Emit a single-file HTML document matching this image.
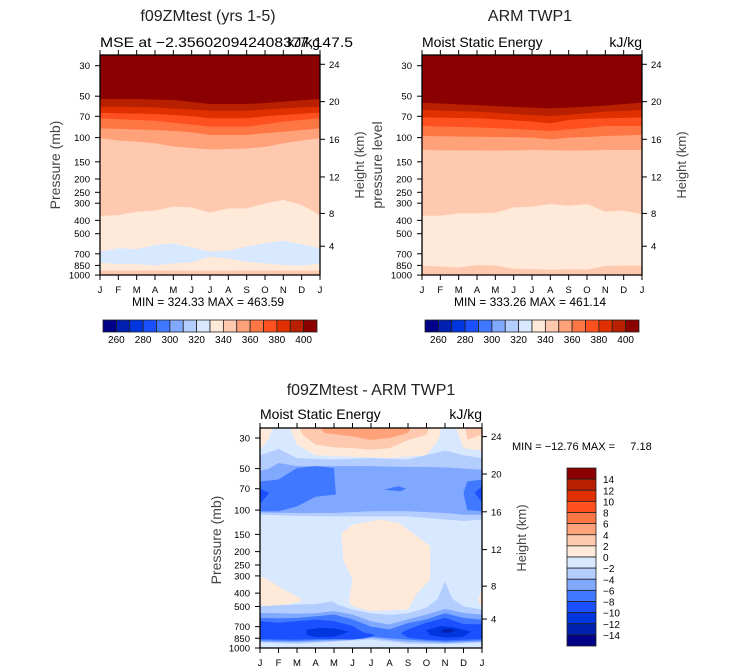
<!DOCTYPE html>
<html><head><meta charset="utf-8"><title>MSE</title>
<style>html,body{margin:0;padding:0;background:#fff;}svg{display:block;font-family:"Liberation Sans",sans-serif;}</style>
</head><body>
<svg id="fig" width="733" height="672" viewBox="0 0 733 672" xmlns="http://www.w3.org/2000/svg">
<rect width="733" height="672" fill="#fff"/>
</svg>
<script>
// ---- data ----
const monthLabels=['J','F','M','A','M','J','J','A','S','O','N','D','J'];
const pressureTicks=[30,50,70,100,150,200,250,300,400,500,700,850,1000];
const heightTicks=[24,20,16,12,8,4];
const topCbLabels=[260,280,300,320,340,360,380,400];
const diffCbLabels=[14,12,10,8,6,4,2,0,-2,-4,-6,-8,-10,-12,-14];
// model (left) contour boundaries, pressure (mb) per month
const mB1=[52.4,52.4,52.4,53,53.3,55,57,57,57,56,54.8,53.5,52.4];
const mB2=[59.6,59.6,60,60.3,61.5,62.5,63.8,63.8,63.8,62.5,61.3,60.3,59.6];
const mB3=[65.9,66.5,67,67.4,68.5,70,72.4,72.4,72.4,70,68.5,67,65.9];
const mB4=[72.4,73.5,74.5,75.4,78,80.5,83.3,83.3,83.3,80,76.6,74.5,72.4];
const mB5=[85.7,86.5,87.3,88,89.5,91.5,95.7,95.7,95.7,93,90.6,88,85.7];
const mB6=[101,105,107,110,116,119,122,121,120,117,110,105,101];
const mB7=[372,366,346,340,318,322,352,327,327,301,284,309,366];
const mBlueTop=[675,638,649,604,587,628,675,664,621,587,562,597,638];
const mBlueBot=[813,831,831,849,821,804,734,759,798,821,844,854,821];
const mSfcTop=[928,926,925,924,926,928,930,928,926,925,926,928,928];
// obs (right) contour boundaries
const oB1=[55.7,56.5,57.3,58,59,59.8,60.6,61.3,60.6,59.5,58.5,57,55.7];
const oB2=[63,63.5,64.2,64.8,66,67.5,68.6,69.7,68.2,66.5,64.8,64,63];
const oB3=[71.3,71.5,72,72.4,73.5,75,76.6,78.8,74.5,73,72.4,71.8,71.3];
const oB4=[82.4,83,83.6,84.2,85.5,86.5,88,89.6,87.1,85,82.4,82.4,82.4];
const oB5=[97.4,97.8,98.2,98.5,99,99.5,100,103,100,99,97.4,96.5,95.7];
const oB6=[123,123.5,124,124,124.5,124,123,123.5,124.5,124,123,123,123];
const oB7=[370,370,355,355,352,322,318,304,313,304,346,340,361];
const oSfcTop=[854,868,882,845,854,898,904,914,904,910,858,854,854];
// difference field regions: [month, pressure] vertices and value
const diffValues=[1,1,1,3,3,5,-3,-5,-7,-7,-7,-9,-9,1,1,1,-3,-5,-7,-9,-9,-11,-11,-13];
const diffPolys=[
 [[0,20],[0,36.5],[0.5,30],[0.9,20]],
 [[1.3,20],[2,33.5],[3,40],[5,41],[7,41.9],[9,40],[9.7,30],[9.9,20]],
 [[10.3,20],[11,35.5],[12,37],[12,20]],
 [[1.8,20],[2.3,28.4],[3,33.5],[4,35],[5,35.5],[6,36.5],[7,35.5],[8,31],[9,28.4],[9.4,20]],
 [[11,20],[11.2,30.8],[12,28.4],[12,20]],
 [[2.5,20],[3.5,27.6],[5,29.2],[6,31],[7,30],[8,27.6],[8.6,20]],
 [[0,40],[1,36],[2,42],[4,43],[6,42],[8,43],[10,37],[11,40],[12,42],[12,117],[11,120],[10,117],[8,111],[6,111],[4,111],[2,110],[0,108]],
 [[0,52],[0.5,50],[1,45.5],[2,48],[4,48],[6,48],[8,48.7],[9,48.7],[10,49],[11,50],[12,51],[12,108],[11,108],[10,105],[8,102],[6,102],[4,105],[2,105],[0,104]],
 [[0,62],[1,60],[2,49.5],[3,48],[4,49.5],[4.1,77],[3,80],[2,94],[1,102],[0,102]],
 [[6.7,71],[7.5,67],[7.9,70],[7.6,73],[7,72]],
 [[12,60],[11.2,62],[11,75],[11.2,100],[12,102]],
 [[0,70],[0.5,75],[0,90]],
 [[12,67],[11.6,75],[12,88]],
 [[4.4,147],[5,128],[6.5,117],[7.5,124],[8.5,155],[9.2,183],[9.2,320],[8.5,398],[8,527],[6,540],[5,498],[4.8,459],[5,320],[4.5,229]],
 [[0,300],[0.6,330],[1.3,378],[2.2,435],[2.2,460],[1.2,490],[0,498]],
 [[12,380],[11.8,440],[11.9,490],[12,510]],
 [[0,498],[1,490],[2,485],[3,480],[3.9,459],[4.2,485],[5,527],[6,560],[7,575],[8,560],[9,510],[9.6,440],[10,330],[10.4,440],[11,498],[12,527],[12,912],[10,937],[8,930],[6,870],[4,900],[2,930],[0,912]],
 [[0,557],[1,560],[2,565],[3,560],[4,540],[5,572],[6,640],[7,674],[8,620],[9,572],[10,520],[11,557],[12,572],[12,900],[10,920],[8,900],[6,850],[4,890],[2,910],[0,900]],
 [[0,605],[1,610],[2,605],[3,590],[4,572],[5,620],[6,700],[7,733],[8,660],[9,620],[10,560],[11,605],[12,622],[12,880],[10,900],[8,870],[6,830],[5.5,860],[4,870],[2,890],[0,880]],
 [[0,639],[1,656],[2,640],[3,622],[4,639],[5,693],[5.6,770],[6.2,800],[6,830],[5,870],[4,860],[3,860],[2,870],[1,865],[0,860]],
 [[7.6,780],[8,733],[9,656],[10,605],[11,670],[12,674],[12,860],[11,870],[10,880],[9,870],[8,840]],
 [[2.5,740],[3.2,713],[4,720],[4.8,760],[4,830],[3,835],[2.5,800]],
 [[9,740],[9.8,693],[10.5,710],[11.4,760],[11,830],[10,840],[9.2,810]],
 [[9.8,740],[10.2,725],[10.6,745],[10.2,780],[9.8,770]]
];
// ---- styles ----
const palette=['#000088','#0020b0','#0036e0','#1a50ff','#4078ff','#80a8ff','#b4cdff','#d7e8ff','#ffe9d9','#ffc9b0','#ffa27a','#ff7645','#ff5020','#e03000','#b82000','#8b0000'];
function mseColor(v){return palette[Math.max(0,Math.min(15,Math.floor((v-260)/10)+1))];}
function diffColor(v){return palette[Math.max(0,Math.min(15,Math.floor((v+14)/2)+1))];}
const NS='http://www.w3.org/2000/svg';
const svg=document.getElementById('fig');
function el(tag,attrs,parent,text){const e=document.createElementNS(NS,tag);for(const k in attrs)e.setAttribute(k,attrs[k]);if(text!==undefined)e.textContent=text;(parent||svg).appendChild(e);return e;}
function heightToP(z){z*=1000;if(z<=11000)return 1013.25*Math.pow(1-2.25577e-5*z,5.25588);if(z<=20000)return 226.32*Math.exp(-(z-11000)/6341.6);return 54.75*Math.pow(1+(z-20000)/216650,-34.163);}
let clipN=0;
function makePlot(cfg){
  const g=el('g',{});
  
  
  cfg.g=g;
  cfg.x=m=>cfg.x0+m*cfg.w/12;
  cfg.y=p=>cfg.y30+cfg.k*Math.log10(p/30);
  const id='clip'+(clipN++);
  const cp=el('clipPath',{id:id},g);el('rect',{x:cfg.x0,y:cfg.y0,width:cfg.w,height:cfg.h},cp);
  cfg.field=el('g',{'clip-path':'url(#'+id+')'},g);
  
  
  return cfg;
}
function fillAll(cfg,v,col){const r=el('rect',{x:cfg.x0,y:cfg.y0,width:cfg.w,height:cfg.h,fill:col(v)},cfg.field);
  
  }
function band(cfg,top,bot,v,col){
  let pts=[];
  for(let i=0;i<13;i++)pts.push(cfg.x(i)+','+cfg.y(top?top[i]:15));
  for(let i=12;i>=0;i--)pts.push(cfg.x(i)+','+cfg.y(bot?bot[i]:1100));
  const p=el('polygon',{points:pts.join(' '),fill:col(v)},cfg.field);
  
  
}
function poly(cfg,verts,v,col){
  const p=el('polygon',{points:verts.map(d=>cfg.x(d[0])+','+cfg.y(d[1])).join(' '),fill:col(v)},cfg.field);
  
  
}
function axes(cfg){
  const g=cfg.g, x0=cfg.x0,y0=cfg.y0,w=cfg.w,h=cfg.h;
  const f=el('rect',{x:x0,y:y0,width:w,height:h,fill:'none',stroke:'#000','stroke-width':1.3},g);
  
  
  monthLabels.forEach((m,i)=>{
    const xx=cfg.x(i);
    el('line',{x1:xx,x2:xx,y1:y0+h,y2:y0+h+5,stroke:'#000'},g);
    el('line',{x1:xx,x2:xx,y1:y0,y2:y0-5,stroke:'#000'},g);
    const t=el('text',{x:xx,y:y0+h+18,'font-size':9.5,'text-anchor':'middle'},g,m);
    
    
  });
  pressureTicks.forEach(p=>{
    const yy=cfg.y(p);
    el('line',{x1:x0-5,x2:x0,y1:yy,y2:yy,stroke:'#000'},g);
    const t=el('text',{x:x0-10,y:yy+3.5,'font-size':9.5,'text-anchor':'end'},g,String(p));
    
    
  });
  heightTicks.forEach(z=>{
    const yy=cfg.y(heightToP(z));
    el('line',{x1:x0+w,x2:x0+w+5,y1:yy,y2:yy,stroke:'#000'},g);
    const t=el('text',{x:x0+w+9,y:yy+3.5,'font-size':9.5},g,String(z));
    
    
  });
  const ht=el('text',{x:0,y:0,'font-size':13,'text-anchor':'middle',fill:'#444',transform:'translate('+(x0+w+44)+','+(y0+h/2)+') rotate(-90)'},g,'Height (km)');
  
  
}
function txt(x,y,s,size,anchor,name,extra){
  const t=el('text',Object.assign({x:x,y:y,'font-size':size,'text-anchor':anchor||'start'},extra||{}),svg,s);
  
  
  return t;
}
function hColorbar(x0,y0,w,h,labels,name){
  const g=el('g',{});
  const bw=w/16;
  palette.forEach((c,i)=>{const r=el('rect',{x:x0+i*bw,y:y0,width:bw,height:h,fill:c,stroke:'#222','stroke-width':0.8},g);
    });
  labels.forEach(v=>{const i=(v-260)/10+1;const t=el('text',{x:x0+i*bw,y:y0+h+11,'font-size':10,'text-anchor':'middle'},g,String(v));
    });
}
// ---- top-left: model ----
const L=makePlot({name:'model-plot',x0:100,y0:55,w:220,h:220,y30:65.7,k:137.5});
fillAll(L,345,mseColor);
band(L,null,mB6,355,mseColor);band(L,null,mB5,365,mseColor);band(L,null,mB4,375,mseColor);
band(L,null,mB3,385,mseColor);band(L,null,mB2,395,mseColor);band(L,null,mB1,410,mseColor);
band(L,mB7,null,335,mseColor);band(L,mBlueTop,mBlueBot,325,mseColor);band(L,mSfcTop,null,345,mseColor);
axes(L);
txt(208,21,'f09ZMtest (yrs 1-5)',16,'middle','model-title',{fill:'#222'});
txt(100,47,'MSE at \u22122.356020942408377,147.5',14,'start','model-subtitle',{textLength:253,lengthAdjust:'spacingAndGlyphs'});
txt(320,47,'kJ/kg',14,'end','model-units');
txt(0,0,'Pressure (mb)',14,'middle','model-y-axis-title',{fill:'#444',transform:'translate(60,165) rotate(-90)'});
txt(208,306,'MIN = 324.33 MAX = 463.59',12,'middle','model-min-max');
hColorbar(103,320,214,12,topCbLabels,'model-colorbar');
// ---- top-right: obs ----
const R=makePlot({name:'obs-plot',x0:422,y0:55,w:220,h:220,y30:65.7,k:137.5});
fillAll(R,345,mseColor);
band(R,null,oB6,355,mseColor);band(R,null,oB5,365,mseColor);band(R,null,oB4,375,mseColor);
band(R,null,oB3,385,mseColor);band(R,null,oB2,395,mseColor);band(R,null,oB1,410,mseColor);
band(R,oB7,null,335,mseColor);band(R,oSfcTop,null,345,mseColor);
axes(R);
txt(530,21,'ARM TWP1',16,'middle','obs-title',{fill:'#222'});
txt(422,47,'Moist Static Energy',14,'start','obs-subtitle');
txt(642,47,'kJ/kg',14,'end','obs-units');
txt(0,0,'pressure level',14,'middle','obs-y-axis-title',{fill:'#444',transform:'translate(382,165) rotate(-90)'});
txt(530,306,'MIN = 333.26 MAX = 461.14',12,'middle','obs-min-max');
hColorbar(425,320,214,12,topCbLabels,'obs-colorbar');
// ---- bottom: difference ----
const D=makePlot({name:'difference-plot',x0:260,y0:428,w:222,h:220,y30:438,k:137.9});
fillAll(D,-1,diffColor);
diffPolys.forEach((pts,i)=>poly(D,pts,diffValues[i],diffColor));
axes(D);
txt(371,395,'f09ZMtest - ARM TWP1',16,'middle','difference-title',{fill:'#222'});
txt(260,419,'Moist Static Energy',14,'start','difference-subtitle');
txt(482,419,'kJ/kg',14,'end','difference-units');
txt(0,0,'Pressure (mb)',14,'middle','difference-y-axis-title',{fill:'#444',transform:'translate(221,540) rotate(-90)'});
txt(512,450,'MIN = \u221212.76  MAX =\u00a0\u00a0\u00a0\u00a0\u00a07.18',11,'start','difference-min-max');
(function(){
  const g=el('g',{});
  const x0=567,y0=468,bw=29,bh=178/16;
  palette.slice().reverse().forEach((c,i)=>{const r=el('rect',{x:x0,y:y0+i*bh,width:bw,height:bh,fill:c,stroke:'#222','stroke-width':0.8},g);
    });
  diffCbLabels.forEach(v=>{const i=(14-v)/2+1;const t=el('text',{x:x0+bw+7,y:y0+i*bh+4,'font-size':10},g,v<0?'\u2212'+(-v):String(v));
    });
})();
</script>
</body></html>
